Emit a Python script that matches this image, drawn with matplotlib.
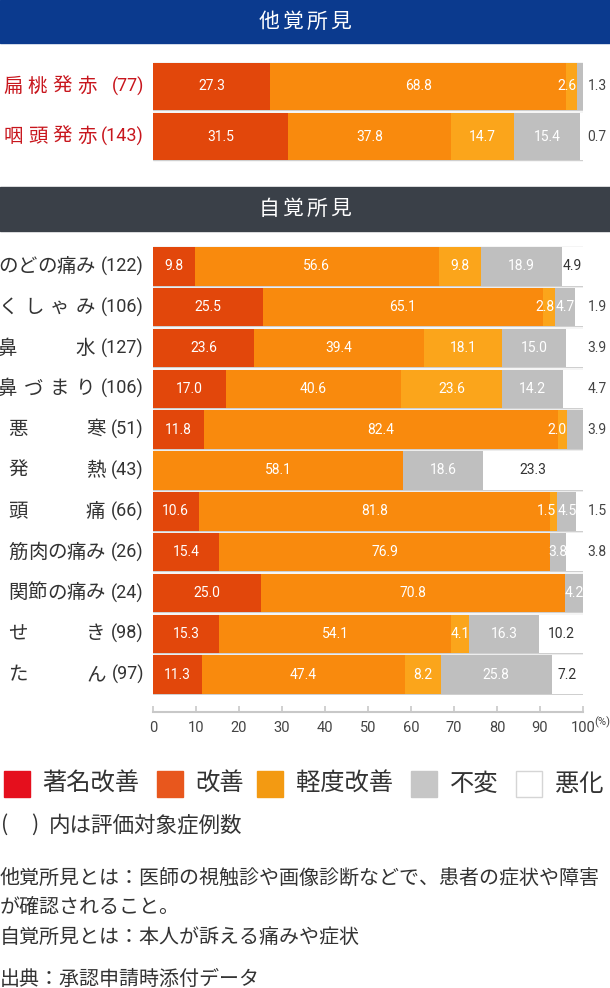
#他覚所見 / 自覚所見 stacked bar chart

import numpy as np
import matplotlib
matplotlib.use('Agg')
import matplotlib.pyplot as plt
from matplotlib.patches import Rectangle
from matplotlib import transforms

W, H = 610, 988
CJK = 'Noto Sans CJK JP'
NUM = 'Roboto'
plt.rcParams['font.family'] = [CJK, 'DejaVu Sans']

# data (%)
top_names = ['扁桃発赤', '咽頭発赤']
top_n = [77, 143]
top_s1 = [27.3, 31.5]
top_s2 = [68.8, 37.8]
top_s3 = [2.6, 14.7]
top_s4 = [1.3, 15.4]
top_s5 = [0.0, 0.7]

bottom_names = ['のどの痛み', 'くしゃみ', '鼻水', '鼻づまり', '悪寒', '発熱',
                '頭痛', '筋肉の痛み', '関節の痛み', 'せき', 'たん']
bottom_n = [122, 106, 127, 106, 51, 43, 66, 26, 24, 98, 97]
bottom_s1 = [9.8, 25.5, 23.6, 17.0, 11.8, 0.0, 10.6, 15.4, 25.0, 15.3, 11.3]
bottom_s2 = [56.6, 65.1, 39.4, 40.6, 82.4, 58.1, 81.8, 76.9, 70.8, 54.1, 47.4]
bottom_s3 = [9.8, 2.8, 18.1, 23.6, 2.0, 0.0, 1.5, 0.0, 0.0, 4.1, 8.2]
bottom_s4 = [18.9, 4.7, 15.0, 14.2, 3.9, 18.6, 4.5, 3.8, 4.2, 16.3, 25.8]
bottom_s5 = [4.9, 1.9, 3.9, 4.7, 0.0, 23.3, 1.5, 3.8, 0.0, 10.2, 7.2]

bar_colors = ['#e2470b', '#f98a0d', '#fba51b', '#bfbfbf', '#ffffff']
legend_labels = ['著名改善', '改善', '軽度改善', '不変', '悪化']
legend_colors = ['#e50f1d', '#e8571d', '#f39a12', '#c6c6c6', '#ffffff']
x_ticks = [0, 10, 20, 30, 40, 50, 60, 70, 80, 90, 100]

notes = ['他覚所見とは：医師の視触診や画像診断などで、患者の症状や障害',
         'が確認されること。',
         '自覚所見とは：本人が訴える痛みや症状']
source = '出典：承認申請時添付データ'


def fx(px):
    return px / W


def fy(py):
    return 1 - py / H


def px_axes(x0, y0, x1, y1):
    return fig.add_axes([fx(x0), fy(y1), fx(x1) - fx(x0), (y1 - y0) / H])


def header(y0, y1, text, color):
    fig.add_artist(Rectangle((0, fy(y1)), 1, (y1 - y0) / H, transform=fig.transFigure,
                             color=color, zorder=0))
    pitch = 24
    xs = 305 - pitch * (len(text) - 1) / 2 + pitch * np.arange(len(text))
    for ch, x in zip(text, xs):
        fig.text(fx(x), fy((y0 + y1) / 2), ch, color='white', fontsize=15,
                 ha='center', va='center')


def stacked(ax, segs, height):
    segs = np.array(segs)
    n = segs.shape[1]
    ys = np.arange(n)
    ax.barh(ys, 100, height=height, color='white', edgecolor='#cfcfcf', lw=1, zorder=1)
    left = np.zeros(n)
    for k, vals in enumerate(segs):
        ax.barh(ys, vals, left=left, height=height, color=bar_colors[k], lw=0, zorder=2)
        for i, v in enumerate(vals):
            if v <= 0:
                continue
            last = np.all(segs[k + 1:, i] == 0)
            outside = last and (v < 4 or (k == 4 and v < 4.8))
            if outside:
                ax.text(103.3, i, f'{v:.1f}', ha='center', va='center', fontsize=10,
                        family=NUM, color='#444444', clip_on=False)
                continue
            col = '#333333' if k == 4 else 'white'
            prev_small = k > 0 and 0 < segs[k - 1, i] < 3
            if v < 3 and not last:
                x, ha = left[i] + v - 0.1, 'right'
            elif prev_small and v < 5:
                x, ha = left[i] + 0.3, 'left'
            else:
                x, ha = left[i] + v / 2, 'center'
            ax.text(x, i, f'{v:.1f}', ha=ha, va='center', fontsize=10, family=NUM,
                    color=col, zorder=3)
        left += vals
    ax.set_xlim(0, 100)
    ax.set_ylim(n - 0.5 + (1 - height) / 2 - 0.03, -0.5 - (1 - height) / 2 + 0.03)
    ax.set_yticks([])
    for s in ax.spines.values():
        s.set_visible(False)


def spread_chars(ax, trans, i, chars, x0, x1, cw, color, size):
    if len(chars) == 1:
        xs = [(x0 + x1) / 2]
    else:
        xs = np.linspace(x0 + cw / 2, x1 - cw / 2, len(chars))
    for ch, x in zip(chars, xs):
        ax.text(x, i, ch, transform=trans, ha='center', va='center', fontsize=size,
                color=color)


fig = plt.figure(figsize=(W / 100, H / 100), dpi=100)
renderer = fig.canvas.get_renderer()
px_x = transforms.Affine2D().scale(1 / W, 1) + fig.transFigure

# 他覚所見
header(0, 43, '他覚所見', '#0b3a8e')
ax_top = px_axes(153, 61, 583, 162)
stacked(ax_top, [top_s1, top_s2, top_s3, top_s4, top_s5], 0.94)
ax_top.set_xticks([])
trans_top = transforms.blended_transform_factory(px_x, ax_top.transData)
for i, (name, n) in enumerate(zip(top_names, top_n)):
    ax_top.text(144, i, f'({n})', transform=trans_top, ha='right', va='center',
                fontsize=13, family=NUM, color='#c8161d')
    spread_chars(ax_top, trans_top, i, name, 3, 97, 20, '#c8161d', 14)

# 自覚所見
header(187, 231, '自覚所見', '#3a4048')
ax_bot = px_axes(153, 246, 583, 695)
stacked(ax_bot, [bottom_s1, bottom_s2, bottom_s3, bottom_s4, bottom_s5], 0.94)
trans_bot = transforms.blended_transform_factory(px_x, ax_bot.transData)
for i, (name, n) in enumerate(zip(bottom_names, bottom_n)):
    t = ax_bot.text(144, i, f'({n})', transform=trans_bot, ha='right', va='center',
                    fontsize=13, family=NUM, color='#333333')
    w = t.get_window_extent(renderer).width
    x1 = 144 - w - 6
    spread_chars(ax_bot, trans_bot, i, name, x1 - 97, x1, 19.5, '#333333', 14)

ax_bot.spines['bottom'].set_visible(True)
ax_bot.spines['bottom'].set_position(('outward', 12.5))
ax_bot.spines['bottom'].set_color('#c8c8c8')
ax_bot.spines['bottom'].set_linewidth(1.5)
ax_bot.set_xticks(x_ticks)
ax_bot.set_xticklabels([str(t) for t in x_ticks], family=NUM)
ax_bot.tick_params(axis='x', direction='in', length=4, width=1.2, color='#c8c8c8',
                   labelsize=10.5, labelcolor='#444444', pad=6)
fig.text(fx(594), fy(722), '(%)', fontsize=8, family=NUM, color='#444444', va='center')

# legend
sq_x = [4, 157, 257, 411, 516]
txt_x = [42, 195, 296, 450, 555]
for lab, col, sx, tx in zip(legend_labels, legend_colors, sq_x, txt_x):
    fig.add_artist(Rectangle((fx(sx), fy(797)), 26 / W, 26 / H, transform=fig.transFigure,
                             facecolor=col, edgecolor='#d5d5d5' if col == '#ffffff' else col,
                             lw=1))
    fig.text(fx(tx), fy(784), lab, fontsize=17.5, color='#333333', va='center')

fig.text(fx(1), fy(825), '(', fontsize=15.5, color='#333333', va='center')
fig.text(fx(31), fy(825), ')', fontsize=15.5, color='#333333', va='center')
fig.text(fx(49), fy(825), '内は評価対象症例数', fontsize=15.5, color='#333333',
         va='center')

for k, line in enumerate(notes):
    fig.text(fx(0), fy([878, 907, 937][k]), line, fontsize=14.4, color='#333333',
             va='center')
fig.text(fx(0), fy(979), source, fontsize=14.4, color='#333333', va='center')

fig.savefig('out.png', dpi=100)
